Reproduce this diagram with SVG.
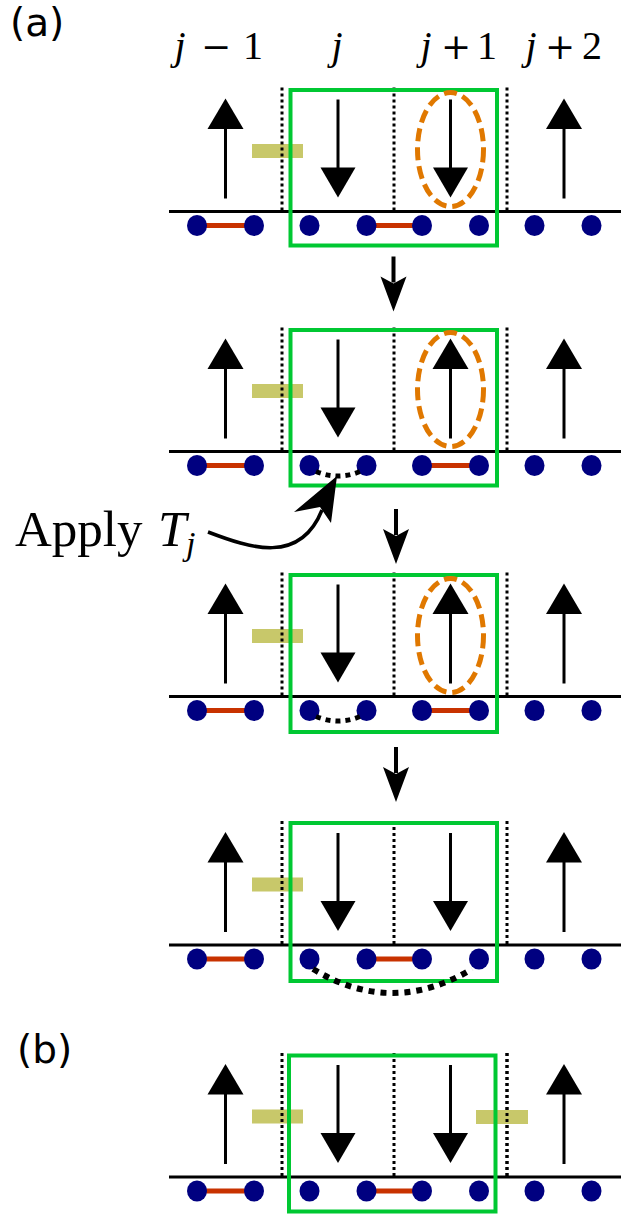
<svg xmlns="http://www.w3.org/2000/svg" xmlns:xlink="http://www.w3.org/1999/xlink" width="639" height="1216" viewBox="0 0 639 1216">
<style>
.chain{stroke:#000;stroke-width:3}
.dotv{stroke:#000;stroke-width:3;stroke-dasharray:3 3}
.box{fill:none;stroke:#00c832;stroke-width:4}
.bar{fill:#c8c86a}
.site{fill:#000080}
.bond{stroke:#c83200;stroke-width:5}
.shaft{stroke:#000;stroke-width:3}
.oval{fill:none;stroke:#e07800;stroke-width:5;stroke-dasharray:13 6}
.arc{fill:none;stroke:#000;stroke-width:5;stroke-dasharray:5 5}
.arc2{fill:none;stroke:#000;stroke-width:6;stroke-dasharray:6 6}
.lbl{font-family:"Liberation Serif",serif;font-size:40px;text-anchor:middle}
.it{font-style:italic}
.op{font-family:"DejaVu Serif",serif;font-size:36px;text-anchor:middle}
.pl{font-family:"DejaVu Sans",sans-serif;font-size:39px}
</style>
<defs>
<g id="up"><line class="shaft" x1="0" y1="-13" x2="0" y2="-85"/><polygon points="0,-113 -18,-82.5 18,-82.5"/></g>
<g id="down"><line class="shaft" x1="0" y1="-112" x2="0" y2="-42"/><polygon points="0,-14 -17.5,-44 17.5,-44"/></g>
<g id="smallarrow"><line x1="0" y1="0" x2="0" y2="26" stroke="#000" stroke-width="4"/><polygon points="0,55 -13,20 0,27 13,20"/></g>
<g id="base">
<rect class="bar" x="252" y="-67.5" width="51" height="14"/>
<line class="chain" x1="169" y1="0" x2="621" y2="0"/>
<line class="dotv" x1="282" y1="-124" x2="282" y2="0"/>
<line class="dotv" x1="394" y1="-124" x2="394" y2="0"/>
<line class="dotv" x1="507" y1="-124" x2="507" y2="0"/>
<use xlink:href="#up" x="225.5"/>
<use xlink:href="#down" x="338"/>
<use xlink:href="#up" x="564"/>
</g>
<g id="sites">
<ellipse class="site" cx="197" cy="14" rx="10" ry="10.5"/>
<ellipse class="site" cx="254" cy="14" rx="10" ry="10.5"/>
<ellipse class="site" cx="309.5" cy="14" rx="10" ry="10.5"/>
<ellipse class="site" cx="366.5" cy="14" rx="10" ry="10.5"/>
<ellipse class="site" cx="422" cy="14" rx="10" ry="10.5"/>
<ellipse class="site" cx="479" cy="14" rx="10" ry="10.5"/>
<ellipse class="site" cx="534.5" cy="14" rx="10" ry="10.5"/>
<ellipse class="site" cx="591.5" cy="14" rx="10" ry="10.5"/>
</g>
</defs>

<g id="labels">
<text class="pl" x="10" y="36">(a)</text>
<text class="lbl it" x="180" y="59">j</text>
<text class="op" x="216" y="59">−</text>
<text class="lbl" x="253" y="59">1</text>
<text class="lbl it" x="337" y="59">j</text>
<text class="lbl it" x="426" y="59">j</text>
<text class="op" x="456" y="59">+</text>
<text class="lbl" x="487" y="59">1</text>
<text class="lbl it" x="531" y="59">j</text>
<text class="op" x="560" y="59">+</text>
<text class="lbl" x="592" y="59">2</text>
<text class="pl" x="17" y="1063">(b)</text>
</g>

<g id="panel1" transform="translate(0,211.5)">
<use xlink:href="#base"/>
<use xlink:href="#down" x="450.5"/>
<line class="bond" x1="197" y1="14" x2="254" y2="14"/>
<line class="bond" x1="366.5" y1="14" x2="422" y2="14"/>
<use xlink:href="#sites"/>
<rect class="box" x="290.5" y="-121.5" width="206.5" height="155.5"/>
<ellipse class="oval" cx="450.5" cy="-62" rx="33" ry="57"/>
</g>

<g id="panel2" transform="translate(0,451.5)">
<use xlink:href="#base"/>
<use xlink:href="#up" x="450.5"/>
<line class="bond" x1="197" y1="14" x2="254" y2="14"/>
<line class="bond" x1="422" y1="14" x2="479" y2="14"/>
<use xlink:href="#sites"/>
<path class="arc" d="M 316 20 Q 338 29 360 20"/>
<rect class="box" x="290.5" y="-121.5" width="206.5" height="155.5"/>
<ellipse class="oval" cx="450.5" cy="-62" rx="33" ry="57"/>
</g>

<g id="panel3" transform="translate(0,696.5)">
<use xlink:href="#base"/>
<use xlink:href="#up" x="450.5"/>
<line class="bond" x1="197" y1="14" x2="254" y2="14"/>
<line class="bond" x1="422" y1="14" x2="479" y2="14"/>
<use xlink:href="#sites"/>
<path class="arc" d="M 316 20 Q 338 29 360 20"/>
<rect class="box" x="290.5" y="-121.5" width="206.5" height="157"/>
<ellipse class="oval" cx="450.5" cy="-61" rx="33" ry="57"/>
</g>

<g id="panel4" transform="translate(0,945)">
<use xlink:href="#base"/>
<use xlink:href="#down" x="450.5"/>
<line class="bond" x1="197" y1="14" x2="254" y2="14"/>
<line class="bond" x1="366.5" y1="14" x2="422" y2="14"/>
<use xlink:href="#sites"/>
<rect class="box" x="290.5" y="-122" width="206.5" height="158"/>
<path class="arc2" d="M 313 24 Q 392 72 472 24"/>
</g>

<g id="panelb" transform="translate(0,1177)">
<use xlink:href="#base"/>
<rect class="bar" x="476" y="-67" width="52" height="14"/>
<line class="dotv" x1="507" y1="-124" x2="507" y2="0"/>
<use xlink:href="#down" x="450.5"/>
<line class="bond" x1="197" y1="14" x2="254" y2="14"/>
<line class="bond" x1="366.5" y1="14" x2="422" y2="14"/>
<use xlink:href="#sites"/>
<rect class="box" x="289" y="-121.5" width="206.5" height="156"/>
</g>

<g id="connectors">
<use xlink:href="#smallarrow" x="393.5" y="256.5"/>
<use xlink:href="#smallarrow" x="396" y="509"/>
<use xlink:href="#smallarrow" x="396" y="747"/>
<path d="M 208 532 C 250 548 300 565 322 510" fill="none" stroke="#000" stroke-width="3.5"/>
<polygon points="337,476 331,523 320,507 294,512"/>
</g>

<g id="apply">
<text x="15" y="546" font-family="'Liberation Serif',serif" font-size="51">Apply</text>
<text x="158" y="546" font-family="'Liberation Serif',serif" font-size="51" font-style="italic">T</text>
<text x="186" y="555" font-family="'Liberation Serif',serif" font-size="34" font-style="italic">j</text>
</g>
</svg>
